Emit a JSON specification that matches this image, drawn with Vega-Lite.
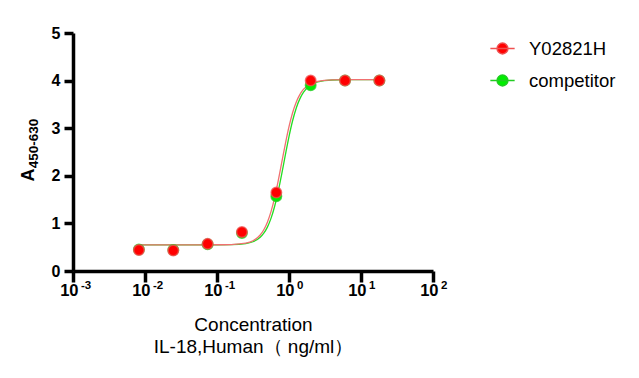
{
  "$schema": "https://vega.github.io/schema/vega-lite/v6.json",
  "autosize": "none",
  "width": 360,
  "height": 238,
  "padding": {"left": 73, "top": 33, "right": 206, "bottom": 107},
  "background": "white",
  "config": {
    "view": {"stroke": null},
    "font": "Liberation Sans"
  },
  "datasets": {
    "pts": [
      {"series": "Y02821H", "x": 0.00823, "y": 0.44},
      {"series": "Y02821H", "x": 0.0247, "y": 0.43},
      {"series": "Y02821H", "x": 0.0741, "y": 0.57},
      {"series": "Y02821H", "x": 0.222, "y": 0.82},
      {"series": "Y02821H", "x": 0.667, "y": 1.65},
      {"series": "Y02821H", "x": 2.0, "y": 4.0},
      {"series": "Y02821H", "x": 6.0, "y": 4.0},
      {"series": "Y02821H", "x": 18.0, "y": 4.0},
      {"series": "competitor", "x": 0.00823, "y": 0.45},
      {"series": "competitor", "x": 0.0247, "y": 0.44},
      {"series": "competitor", "x": 0.0741, "y": 0.56},
      {"series": "competitor", "x": 0.222, "y": 0.8},
      {"series": "competitor", "x": 0.667, "y": 1.57},
      {"series": "competitor", "x": 2.0, "y": 3.9},
      {"series": "competitor", "x": 6.0, "y": 4.0},
      {"series": "competitor", "x": 18.0, "y": 4.0}
    ],
    "curves": [
      {"series": "Y02821H", "x": 0.00823, "y": 0.55},
      {"series": "Y02821H", "x": 0.0316, "y": 0.55},
      {"series": "Y02821H", "x": 0.1, "y": 0.551},
      {"series": "Y02821H", "x": 0.1585, "y": 0.556},
      {"series": "Y02821H", "x": 0.2512, "y": 0.584},
      {"series": "Y02821H", "x": 0.3162, "y": 0.635},
      {"series": "Y02821H", "x": 0.3981, "y": 0.756},
      {"series": "Y02821H", "x": 0.4467, "y": 0.866},
      {"series": "Y02821H", "x": 0.5012, "y": 1.025},
      {"series": "Y02821H", "x": 0.5623, "y": 1.247},
      {"series": "Y02821H", "x": 0.631, "y": 1.538},
      {"series": "Y02821H", "x": 0.7079, "y": 1.892},
      {"series": "Y02821H", "x": 0.7943, "y": 2.285},
      {"series": "Y02821H", "x": 0.8913, "y": 2.677},
      {"series": "Y02821H", "x": 1.0, "y": 3.032},
      {"series": "Y02821H", "x": 1.122, "y": 3.324},
      {"series": "Y02821H", "x": 1.259, "y": 3.545},
      {"series": "Y02821H", "x": 1.413, "y": 3.705},
      {"series": "Y02821H", "x": 1.585, "y": 3.814},
      {"series": "Y02821H", "x": 1.995, "y": 3.935},
      {"series": "Y02821H", "x": 2.512, "y": 3.986},
      {"series": "Y02821H", "x": 3.981, "y": 4.014},
      {"series": "Y02821H", "x": 6.31, "y": 4.019},
      {"series": "Y02821H", "x": 18.2, "y": 4.02},
      {"series": "competitor", "x": 0.00823, "y": 0.55},
      {"series": "competitor", "x": 0.0316, "y": 0.55},
      {"series": "competitor", "x": 0.1, "y": 0.551},
      {"series": "competitor", "x": 0.1585, "y": 0.554},
      {"series": "competitor", "x": 0.2512, "y": 0.576},
      {"series": "competitor", "x": 0.3162, "y": 0.615},
      {"series": "competitor", "x": 0.3981, "y": 0.708},
      {"series": "competitor", "x": 0.4467, "y": 0.795},
      {"series": "competitor", "x": 0.5012, "y": 0.922},
      {"series": "competitor", "x": 0.5623, "y": 1.105},
      {"series": "competitor", "x": 0.631, "y": 1.355},
      {"series": "competitor", "x": 0.7079, "y": 1.673},
      {"series": "competitor", "x": 0.7943, "y": 2.047},
      {"series": "competitor", "x": 0.8913, "y": 2.444},
      {"series": "competitor", "x": 1.0, "y": 2.825},
      {"series": "competitor", "x": 1.122, "y": 3.157},
      {"series": "competitor", "x": 1.259, "y": 3.42},
      {"series": "competitor", "x": 1.413, "y": 3.616},
      {"series": "competitor", "x": 1.585, "y": 3.753},
      {"series": "competitor", "x": 1.995, "y": 3.909},
      {"series": "competitor", "x": 2.512, "y": 3.975},
      {"series": "competitor", "x": 3.981, "y": 4.013},
      {"series": "competitor", "x": 6.31, "y": 4.019},
      {"series": "competitor", "x": 18.2, "y": 4.02}
    ]
  },
  "resolve": {"scale": {"x": "independent", "y": "independent"}, "axis": {"x": "independent", "y": "independent"}},
  "layer": [
    {
      "data": {"name": "curves"},
      "transform": [{"filter": "datum.series === 'competitor'"}],
      "mark": {"type": "line", "color": "#22DD22", "strokeWidth": 1.3, "interpolate": "monotone"},
      "encoding": {
        "x": {
          "field": "x", "type": "quantitative",
          "scale": {"type": "log", "domain": [0.001, 100], "nice": false},
          "axis": {
            "orient": "bottom",
            "values": [0.001, 0.01, 0.1, 1, 10, 100],
            "labels": false,
            "title": ["Concentration", "IL-18,Human（ ng/ml）"],
            "titleFontSize": 19, "titleFontWeight": "normal", "titleColor": "black",
            "titlePadding": 32, "titleLineHeight": 22,
            "domainColor": "black", "domainWidth": 3.5, "tickColor": "black", "tickWidth": 3.5, "tickSize": 11,
            "grid": false
          }
        },
        "y": {
          "field": "y", "type": "quantitative",
          "scale": {"domain": [0, 5], "nice": false},
          "axis": {
            "orient": "left",
            "values": [0, 1, 2, 3, 4, 5],
            "title": "A",
            "titleFontSize": 18, "titleFontWeight": "bold", "titleColor": "black",
            "titleAngle": -90, "titleAlign": "center", "titleBaseline": "middle",
            "titleX": -44.5, "titleY": 141.5,
            "labelFontSize": 16, "labelFontWeight": "bold", "labelColor": "black",
            "labelPadding": 4,
            "domainColor": "black", "domainWidth": 3.5, "tickColor": "black", "tickWidth": 3.5, "tickSize": 9,
            "grid": false
          }
        }
      }
    },
    {
      "data": {"name": "curves"},
      "transform": [{"filter": "datum.series === 'Y02821H'"}],
      "mark": {"type": "line", "color": "#F07070", "strokeWidth": 1.3, "interpolate": "monotone"},
      "encoding": {
        "x": {
          "field": "x", "type": "quantitative",
          "scale": {"type": "log", "domain": [0.001, 100], "nice": false},
          "axis": null
        },
        "y": {
          "field": "y", "type": "quantitative",
          "scale": {"domain": [0, 5], "nice": false},
          "axis": {
            "orient": "left",
            "values": [0, 1, 2, 3, 4, 5],
            "labels": false,
            "title": "450-630",
            "titleFontSize": 13.5, "titleFontWeight": "bold", "titleColor": "black",
            "titleAngle": -90, "titleAlign": "center", "titleBaseline": "middle",
            "titleX": -40, "titleY": 110,
            "domain": false, "tickColor": "transparent", "tickSize": 9,
            "grid": false
          }
        }
      }
    },
    {
      "data": {"name": "pts"},
      "mark": {"type": "point", "opacity": 0},
      "encoding": {
        "x": {
          "field": "x", "type": "quantitative",
          "scale": {"type": "log", "domain": [0.001, 100], "nice": false, "range": [5, 365]},
          "axis": {
            "orient": "bottom",
            "values": [0.001, 0.01, 0.1, 1, 10, 100],
            "labelExpr": "'10'",
            "labelAlign": "right",
            "title": null,
            "labelFontSize": 16.5, "labelFontWeight": "bold", "labelColor": "black",
            "labelPadding": 0,
            "domain": false, "tickColor": "transparent", "tickWidth": 3.5, "tickSize": 11,
            "grid": false, "labelFlush": false, "labelOverlap": false
          }
        },
        "y": {"field": "y", "type": "quantitative", "scale": {"domain": [0, 5], "nice": false}, "axis": null}
      }
    },
    {
      "data": {"name": "pts"},
      "mark": {"type": "point", "opacity": 0},
      "encoding": {
        "x": {
          "field": "x", "type": "quantitative",
          "scale": {"type": "log", "domain": [0.001, 100], "nice": false, "range": [7.5, 367.5]},
          "axis": {
            "orient": "bottom",
            "values": [0.001, 0.01, 0.1, 1, 10, 100],
            "labelExpr": "{'0.001':'-3','0.01':'-2','0.1':'-1','1':'0','10':'1','100':'2'}[format(datum.value, '')]",
            "labelAlign": "left",
            "title": null,
            "labelFontSize": 11.5, "labelFontWeight": "bold", "labelColor": "black",
            "labelPadding": -3,
            "domain": false, "tickColor": "transparent", "tickWidth": 3.5, "tickSize": 11,
            "grid": false, "labelFlush": false, "labelOverlap": false
          }
        },
        "y": {"field": "y", "type": "quantitative", "scale": {"domain": [0, 5], "nice": false}, "axis": null}
      }
    },
    {
      "data": {"name": "pts"},
      "mark": {"type": "point", "shape": "circle", "filled": true, "size": 110, "strokeWidth": 1.5, "strokeOpacity": 0.75, "fillOpacity": 1},
      "encoding": {
        "x": {"field": "x", "type": "quantitative", "scale": {"type": "log", "domain": [0.001, 100], "nice": false}, "axis": null},
        "y": {"field": "y", "type": "quantitative", "scale": {"domain": [0, 5], "nice": false}, "axis": null},
        "order": {"field": "series", "sort": "descending"},
        "fill": {
          "field": "series", "type": "nominal",
          "scale": {"domain": ["Y02821H", "competitor"], "range": ["#FF0000", "#00EE00"]},
          "legend": {
            "title": null, "orient": "none", "legendX": 415, "legendY": 1,
            "symbolType": "M-0.9,0H0.9M-0.4,0A0.4,0.4 0 1 1 0.4,0A0.4,0.4 0 1 1 -0.4,0Z",
            "symbolSize": 729, "symbolStrokeWidth": 1.5,
            "labelFontSize": 18.5, "labelColor": "black", "labelOffset": 12,
            "rowPadding": 8
          }
        },
        "stroke": {
          "field": "series", "type": "nominal",
          "scale": {"domain": ["Y02821H", "competitor"], "range": ["#F05050", "#22CC22"]},
          "legend": {
            "title": null, "orient": "none", "legendX": 415, "legendY": 1,
            "symbolType": "M-0.9,0H0.9M-0.4,0A0.4,0.4 0 1 1 0.4,0A0.4,0.4 0 1 1 -0.4,0Z",
            "symbolSize": 729, "symbolStrokeWidth": 1.5,
            "labelFontSize": 18.5, "labelColor": "black", "labelOffset": 12,
            "rowPadding": 8
          }
        }
      }
    }
  ]
}
